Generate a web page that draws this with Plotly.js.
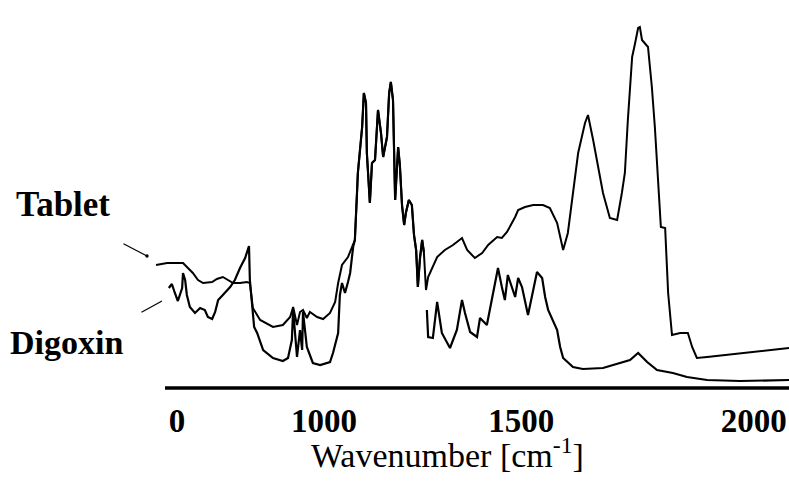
<!DOCTYPE html>
<html>
<head>
<meta charset="utf-8">
<script src="https://cdn.plot.ly/plotly-3.0.1.min.js"></script>
<style>html,body{margin:0;padding:0;background:#fff;}#chart{width:789px;height:483px;}</style>
</head>
<body>
<div id="chart"></div>
<script>
// Tick labels as printed in the figure
const tickValues = [657, 1000, 1460, 2003];
const tickLabels = ['0', '1000', '1500', '2000'];

// Tablet spectrum (wavenumber, absorbance)
const tabletWn = [608,634,671,680,694,706,718,739,750,764,776,788,804,820,827,830,834,851,881,904,921,928,937,944,951,960,967,984,998,1014,1019,1026,1033,1042,1056,1068,
  1072,1077,1079,1084,1089,1093,1098,1100,1105,1107,1112,1119,1126,1133,1138,1142,1147,1152,1156,1161,1166,1173,1177,1182,1187,1191,1198,1205,1210,1215,1219,1224,1229,1233,1238,
  1243,1254,1264,1282,1301,1322,1334,1352,1369,1383,1404,1415,1427,1446,1453,1469,1488,1511,1527,1544,1558,1569,1579,1586,1593,1609,1616,1628,1639,1651,1667,1684,1695,1702,1709,1719,1726,1733,1737,1742,1756,1765,1772,1779,1786,1796,1803,1812,1831,1849,1859,1870,1894,2085];
const tabletAbs = [1.23,1.25,1.25,1.21,1.15,1.08,1.05,1.06,1.09,1.11,1.08,1.05,1.05,1.06,1.05,0.91,0.80,0.68,0.61,0.63,0.71,0.81,0.63,0.76,0.78,0.70,0.76,0.71,0.69,0.75,0.80,0.86,1.05,1.23,1.31,1.43,
  1.48,1.95,2.15,2.38,2.61,2.95,2.85,2.35,2.03,1.85,2.25,2.28,2.78,2.55,2.31,2.40,2.51,2.95,3.06,2.88,1.88,2.41,2.23,1.83,1.63,1.75,1.88,1.83,1.53,1.38,1.01,1.30,1.48,1.36,0.98,
  1.11,1.21,1.31,1.38,1.43,1.50,1.38,1.30,1.35,1.43,1.51,1.50,1.56,1.71,1.78,1.81,1.83,1.83,1.80,1.65,1.38,1.55,1.88,2.15,2.35,2.65,2.73,2.48,2.21,1.95,1.70,1.68,1.95,2.15,2.68,3.31,3.45,3.60,3.61,3.48,3.41,3.01,2.61,2.15,1.61,1.60,0.95,0.53,0.55,0.55,0.41,0.30,0.31,0.40];

// Digoxin spectrum (wavenumber, absorbance); null = gap in the trace
const digoxinWn = [638,645,652,659,669,671,676,680,687,699,711,722,729,739,746,753,764,781,792,804,816,825,827,832,837,844,858,881,904,916,925,928,937,944,949,951,960,974,991,1014,1021,1033,1037,1042,1049,1056,1061,1068,
  1072,1077,1079,1084,1089,1093,1098,1100,1105,1107,1112,1119,1126,1133,1138,1142,1147,1152,1156,1161,1166,1173,1177,1182,1187,1191,1198,1205,1210,1215,1219,1224,1229,1233,1236,
  1240,1243,1254,1264,1275,1294,1310,1322,1329,1341,1357,1364,1380,1392,1406,1415,1422,1429,1439,1446,1453,1462,1476,1485,1497,1509,1516,1523,1534,1544,1551,1558,1581,1604,1651,1674,1714,1733,1754,1777,1814,1847,1894,1971,2085];
const digoxinAbs = [1.00,1.04,0.95,0.87,1.00,1.15,1.08,0.93,0.81,0.75,0.80,0.78,0.71,0.69,0.76,0.88,0.93,1.01,1.08,1.20,1.30,1.42,1.08,0.85,0.61,0.55,0.38,0.30,0.27,0.30,0.48,0.78,0.31,0.58,0.38,0.76,0.41,0.25,0.23,0.26,0.35,0.55,0.93,1.05,0.95,1.06,1.15,1.41,
  1.48,1.95,2.15,2.38,2.61,2.95,2.85,2.35,2.03,1.85,2.25,2.28,2.78,2.55,2.31,2.40,2.51,2.95,3.06,2.88,1.88,2.41,2.23,1.83,1.63,1.75,1.88,1.83,1.53,1.38,1.01,1.30,1.48,1.36,null,
  0.78,0.51,0.50,0.86,0.55,0.40,0.58,0.88,0.75,0.56,0.51,0.70,0.63,0.90,1.20,1.01,0.88,1.13,1.00,0.91,1.10,1.01,0.73,0.91,1.16,1.10,0.91,0.78,0.68,0.58,0.41,0.30,0.21,0.19,0.20,0.23,0.28,0.35,0.26,0.18,0.15,0.11,0.08,0.07,0.08];

const traces = [
  {x: tabletWn, y: tabletAbs, type: 'scatter', mode: 'lines', name: 'Tablet',
   line: {color: '#000', width: 2}},
  {x: digoxinWn, y: digoxinAbs, type: 'scatter', mode: 'lines', name: 'Digoxin',
   connectgaps: false, line: {color: '#000', width: 2.2}}
];

const serif = 'Liberation Serif, Times New Roman, serif';

const layout = {
  width: 789, height: 483,
  margin: {l: 0, r: 0, t: 0, b: 93},
  paper_bgcolor: '#fff', plot_bgcolor: '#fff',
  showlegend: false,
  xaxis: {
    range: [244, 2085],
    showgrid: false, zeroline: false, showline: false,
    tickmode: 'array', tickvals: tickValues, ticktext: tickLabels,
    ticks: 'outside', ticklen: 1, tickcolor: 'rgba(0,0,0,0)',
    tickfont: {family: serif, size: 33, color: '#000', weight: 'bold'},
    automargin: false
  },
  yaxis: {range: [-0.02, 3.88], visible: false, showgrid: false, zeroline: false},
  shapes: [
    {type: 'line', xref: 'x', yref: 'y', x0: 629, x1: 2085, y0: 0, y1: 0,
     line: {color: '#000', width: 3.5}}
  ],
  annotations: [
    {x: 0.567, y: -0.162, xref: 'paper', yref: 'paper', text: 'Wavenumber [cm<sup>-1</sup>]', showarrow: false,
     font: {family: serif, size: 34, color: '#000'}, xanchor: 'center', yanchor: 'middle'},
    {x: 391, y: 1.84, xref: 'x', yref: 'y', text: '<b>Tablet</b>', showarrow: false,
     font: {family: serif, size: 35, color: '#000'}, xanchor: 'center', yanchor: 'middle'},
    {x: 400, y: 0.46, xref: 'x', yref: 'y', text: '<b>Digoxin</b>', showarrow: false,
     font: {family: serif, size: 34, color: '#000'}, xanchor: 'center', yanchor: 'middle'},
    {x: 587, y: 1.32, xref: 'x', yref: 'y', text: '', showarrow: true,
     ax: -25, ay: -13, arrowhead: 6, arrowsize: 0.7, arrowwidth: 1.2, arrowcolor: '#000'},
    {x: 622, y: 0.87, xref: 'x', yref: 'y', text: '', showarrow: true,
     ax: -22, ay: 12, arrowhead: 0, arrowwidth: 1.2, arrowcolor: '#000'}
  ]
};

Plotly.newPlot('chart', traces, layout, {displayModeBar: false, staticPlot: true});
</script>
</body>
</html>
